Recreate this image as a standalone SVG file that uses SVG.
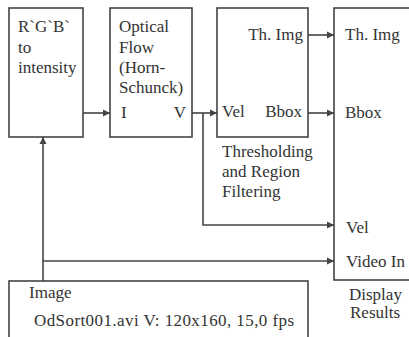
<svg xmlns="http://www.w3.org/2000/svg" width="409" height="337" viewBox="0 0 409 337">
<style>
.box{fill:#fff;stroke:#444;stroke-width:1.6}
.t{font-family:'Liberation Serif','Times New Roman',Times,serif;font-size:17px;fill:#333}
.c{fill:none;stroke:#444;stroke-width:1.6}
</style>
<defs>
<marker id="ah" markerWidth="8" markerHeight="8" refX="7" refY="4" orient="auto" markerUnits="userSpaceOnUse">
<path d="M0,0.5 L7,4 L0,7.5 Z" fill="#444"/>
</marker>
</defs>
<rect width="409" height="337" fill="#fff"/>
<g id="rgb2int">
<rect class="box" x="9" y="8" width="74" height="129"/>
<text class="t" x="18" y="32">R`G`B`</text>
<text class="t" x="18" y="52.5">to</text>
<text class="t" x="18" y="73">intensity</text>
</g>
<g id="optflow">
<rect class="box" x="110" y="8" width="82" height="129"/>
<text class="t" x="119" y="32">Optical</text>
<text class="t" x="119" y="52.5">Flow</text>
<text class="t" x="119" y="73">(Horn-</text>
<text class="t" x="119" y="93">Schunck)</text>
<text class="t" x="121" y="118">I</text>
<text class="t" x="186" y="118" text-anchor="end">V</text>
</g>
<g id="thresh">
<rect class="box" x="217" y="8" width="91" height="129"/>
<text class="t" x="303" y="40" text-anchor="end">Th. Img</text>
<text class="t" x="222" y="117">Vel</text>
<text class="t" x="302" y="117" text-anchor="end">Bbox</text>
<text class="t" x="222" y="157">Thresholding</text>
<text class="t" x="222" y="177">and Region</text>
<text class="t" x="222" y="197">Filtering</text>
</g>
<g id="display">
<rect class="box" x="334" y="8" width="90" height="272"/>
<text class="t" x="345" y="40">Th. Img</text>
<text class="t" x="345" y="118">Bbox</text>
<text class="t" x="346" y="233">Vel</text>
<text class="t" x="346" y="267">Video In</text>
<text class="t" x="349" y="300">Display</text>
<text class="t" x="350" y="318">Results</text>
</g>
<g id="image">
<rect class="box" x="9" y="281" width="299" height="70"/>
<text class="t" x="29" y="298">Image</text>
<text class="t" x="34" y="326" textLength="260" lengthAdjust="spacing">OdSort001.avi V: 120x160, 15,0 fps</text>
</g>
<g id="connectors">
<path class="c" d="M83,113 H110" marker-end="url(#ah)"/>
<path class="c" d="M192,113 H217" marker-end="url(#ah)"/>
<path class="c" d="M203,113 V225 H334" marker-end="url(#ah)"/>
<path class="c" d="M308,35 H334" marker-end="url(#ah)"/>
<path class="c" d="M308,113 H334" marker-end="url(#ah)"/>
<path class="c" d="M43,281 V137" marker-end="url(#ah)"/>
<path class="c" d="M43,261 H334" marker-end="url(#ah)"/>
</g>
</svg>
